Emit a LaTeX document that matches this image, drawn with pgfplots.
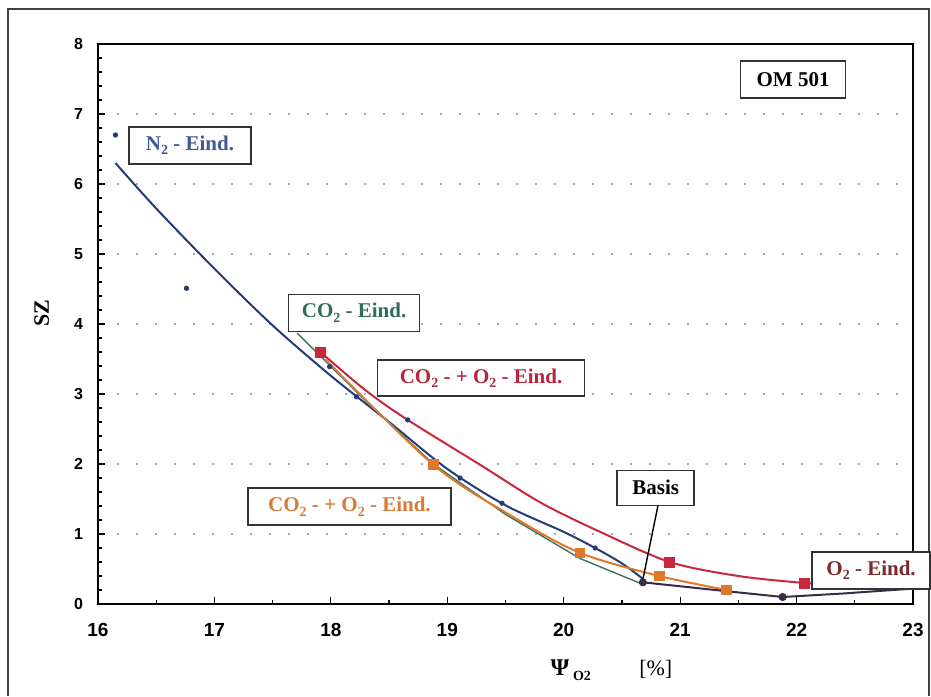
\documentclass[border=0pt]{standalone}
\usepackage{fontspec}
\setmainfont{Liberation Serif}
\newfontfamily\arial{Liberation Sans}
\usepackage{pgfplots}
\pgfplotsset{compat=1.18}

\newcommand\sub[1]{\raisebox{-0.45ex}{\fontsize{7}{8}\selectfont #1}}

\definecolor{nline}{HTML}{263A7A}
\definecolor{ntext}{HTML}{3D5A94}
\definecolor{cline}{HTML}{3D7060}
\definecolor{ctext}{HTML}{2F6E5E}
\definecolor{rline}{HTML}{C8283C}
\definecolor{rtext}{HTML}{B8243C}
\definecolor{oline}{HTML}{E0782C}
\definecolor{otext}{HTML}{D77A3A}
\definecolor{bline}{HTML}{3A2A4A}
\definecolor{btext}{HTML}{7A2A2A}

\begin{document}
\begin{tikzpicture}
\path[use as bounding box] (-49pt,-46pt) rectangle (416.5pt,302pt);
\draw[line width=0.8pt,black!75] (-45pt,-46pt) -- (-45pt,297.5pt) -- (415.5pt,297.5pt) -- (415.5pt,-46pt);
\begin{axis}[
    at={(0,0)}, anchor=south west,
    scale only axis, width=407.5pt, height=280pt,
    xmin=16, xmax=23, ymin=0, ymax=8,
    xtick={16,...,23}, ytick={0,...,8},
    minor x tick num=1, minor y tick num=4,
    tick align=inside, xtick pos=bottom, ytick pos=left,
    major tick length=3.5pt, minor tick length=2pt,
    axis line style={line width=1pt},
    every tick/.style={black, line width=0.6pt},
    ymajorgrids,
    grid style={gray!70, line width=0.8pt, dash pattern=on 1pt off 8.5pt},
    /pgf/number format/assume math mode=true,
    yticklabel style={font=\arial\bfseries\fontsize{8}{9}\selectfont, xshift=-4pt},
    xticklabel style={font=\arial\bfseries\fontsize{9.5}{10}\selectfont, yshift=-6pt},
    ylabel={\textbf{SZ}},
    ylabel style={font=\fontsize{11}{12}\selectfont, at={(rel axis cs:-0.069,0.52)}, anchor=center},
    xlabel={\textbf{\fontsize{12}{13}\selectfont Ψ}\,\textbf{\sub{O2}}\hspace{2.2em}[\%]},
    xlabel style={font=\fontsize{11}{12}\selectfont, at={(rel axis cs:0.63,-0.118)}, anchor=center},
    clip=false,
    every node/.style={inner sep=0pt},
]

% N2 - Eind. (navy)
\addplot[nline, line width=1pt, smooth] coordinates {
  (16.15,6.30) (16.50,5.65) (17.00,4.79) (17.50,3.98) (18.00,3.26) (18.50,2.60)
  (19.00,1.93) (19.50,1.41) (20.00,1.03) (20.27,0.80) (20.50,0.58) (20.68,0.36)};
\addplot[only marks, mark=*, mark size=1.1pt, nline] coordinates {
  (16.15,6.70) (16.76,4.51) (17.99,3.39) (18.22,2.96) (18.66,2.63)
  (19.11,1.80) (19.47,1.44) (20.27,0.80)};

% CO2 - Eind. (teal)
\addplot[cline, line width=0.7pt] coordinates {
  (17.71,3.87) (18.30,2.90) (18.88,2.00) (19.50,1.28) (20.14,0.65) (20.68,0.28)};

% CO2 + O2 - Eind. (orange)
\addplot[oline, line width=1pt, smooth, mark=square*, mark size=2.2pt,
  mark options={fill=oline}, mark indices={2,4,5,6}] coordinates {
  (17.95,3.50) (18.88,1.99) (19.55,1.26) (20.14,0.73) (20.82,0.40) (21.40,0.20)};

% CO2 + O2 - Eind. (red)
\addplot[rline, line width=1pt, smooth] coordinates {
  (17.91,3.60) (18.30,3.05) (18.66,2.63) (19.30,1.97) (19.80,1.45) (20.30,1.04)
  (20.91,0.60) (21.50,0.40) (22.07,0.30) (22.50,0.26) (23.00,0.24)};
\addplot[only marks, mark=square*, mark size=2.5pt, rline] coordinates {
  (17.91,3.60) (20.91,0.60) (22.07,0.30)};

% O2 - Eind. / Basis (dark)
\addplot[bline, line width=1pt, mark=*, mark size=1.5pt, mark indices={1,3}] coordinates {
  (20.68,0.31) (21.30,0.20) (21.88,0.10) (22.40,0.15) (23.00,0.22)};

% pointer for Basis
\addplot[black, line width=0.7pt] coordinates {(20.81,1.41) (20.67,0.27)};

\begin{scope}[every node/.append style={draw=black!80, line width=0.8pt, fill=white,
    font=\bfseries\fontsize{10.5}{12}\selectfont, minimum height=18.5pt}]
\node[text=ntext, minimum width=61pt] at (axis cs:16.79,6.55) {N\sub{2} - Eind.};
\node[text=black, minimum width=52.5pt] at (axis cs:21.97,7.49) {OM 501};
\node[text=ctext, minimum width=65.5pt] at (axis cs:18.20,4.16) {CO\sub{2} - Eind.};
\node[text=rtext, minimum width=103.5pt, minimum height=18pt] at (axis cs:19.29,3.23) {CO\sub{2} - + O\sub{2} - Eind.};
\node[text=otext, minimum width=101.5pt] at (axis cs:18.16,1.39) {CO\sub{2} - + O\sub{2} - Eind.};
\node[text=black, minimum width=38.5pt, minimum height=17.5pt] at (axis cs:20.79,1.66) {Basis};
\node[text=btext, minimum width=59pt] at (axis cs:22.64,0.48) {O\sub{2} - Eind.};
\end{scope}

\end{axis}
\end{tikzpicture}
\end{document}
